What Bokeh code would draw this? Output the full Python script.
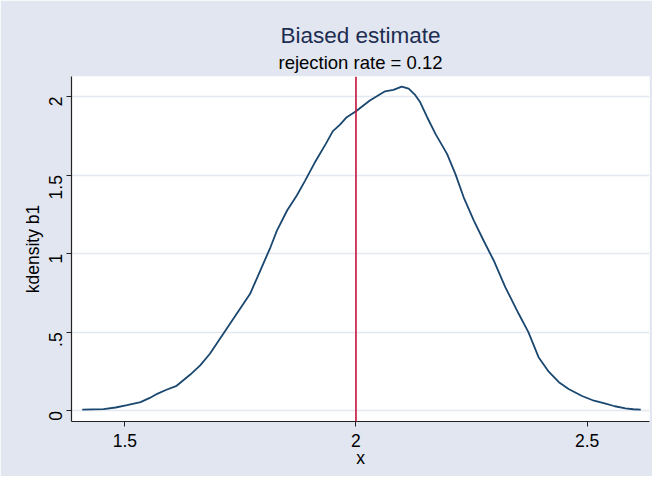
import math
from bokeh.plotting import figure
from bokeh.models import Span, Title, Range1d, FixedTicker
from bokeh.embed import file_html
from bokeh.resources import INLINE

# kernel density estimate of b1
x_vals = [1.408, 1.43, 1.454, 1.48, 1.505, 1.534, 1.554, 1.570, 1.590, 1.612,
          1.641, 1.663, 1.684, 1.713, 1.742, 1.771, 1.793, 1.815, 1.829, 1.851,
          1.872, 1.890, 1.91, 1.935, 1.95, 1.965, 1.980, 2.000, 2.030, 2.063,
          2.081, 2.099, 2.114, 2.128, 2.139, 2.154, 2.172, 2.197, 2.215, 2.233,
          2.255, 2.276, 2.298, 2.323, 2.352, 2.373, 2.395, 2.417, 2.439, 2.46,
          2.489, 2.515, 2.540, 2.56, 2.583, 2.60, 2.616]
density = [0.008, 0.010, 0.012, 0.022, 0.037, 0.056, 0.083, 0.109, 0.135, 0.160,
           0.230, 0.29, 0.364, 0.491, 0.618, 0.745, 0.893, 1.041, 1.147, 1.275,
           1.370, 1.465, 1.575, 1.70, 1.78, 1.819, 1.868, 1.906, 1.974, 2.033,
           2.042, 2.063, 2.050, 2.01, 1.963, 1.868, 1.762, 1.635, 1.508, 1.359,
           1.211, 1.084, 0.957, 0.787, 0.618, 0.501, 0.342, 0.25, 0.183, 0.14,
           0.095, 0.065, 0.046, 0.030, 0.017, 0.011, 0.008]
true_value = 2.0
x_ticks = [1.5, 2.0, 2.5]
x_tick_labels = ["1.5", "2", "2.5"]
y_ticks = [0.0, 0.5, 1.0, 1.5, 2.0]
y_tick_labels = ["0", ".5", "1", "1.5", "2"]

FONT = "Liberation Sans"
BG = "#E1E6F0"
GRID = "#E3E8F1"

p = figure(width=652, height=476, output_backend="svg", toolbar_location=None,
           x_range=Range1d(1.3846, 2.635), y_range=Range1d(-0.067, 2.127),
           min_border_left=71, min_border_right=3, min_border_bottom=55,
           min_border_top=76)
p.title.visible = False
p.background_fill_color = "white"
p.border_fill_color = BG
p.outline_line_color = None

sub = Title(text="rejection rate = 0.12", align="center", text_font=FONT,
            text_font_size="18.5px", text_font_style="normal", text_color="black",
            standoff=7, offset=0)
p.add_layout(sub, "above")
main = Title(text="Biased estimate", align="center", text_font=FONT,
             text_font_size="22.5px", text_font_style="normal", text_color="#1E2D52",
             standoff=-3)
p.add_layout(main, "above")

p.line(x_vals, density, line_color="#1A476F", line_width=1.8)
p.add_layout(Span(location=true_value, dimension="height", line_color="#C4133A",
                  line_width=1.6))

p.xgrid.visible = False
p.ygrid.grid_line_color = GRID
p.ygrid.grid_line_width = 1.5

p.xaxis.ticker = FixedTicker(ticks=x_ticks)
p.xaxis.major_label_overrides = dict(zip(x_ticks, x_tick_labels))
p.yaxis.ticker = FixedTicker(ticks=y_ticks)
p.yaxis.major_label_overrides = dict(zip(y_ticks, y_tick_labels))
p.yaxis.major_label_orientation = math.pi / 2

p.xaxis.axis_label = "x"
p.yaxis.axis_label = "kdensity b1"
for ax in (p.xaxis, p.yaxis):
    ax.axis_line_color = "#222222"
    ax.axis_line_width = 1.2
    ax.major_tick_line_color = "#222222"
    ax.major_tick_out = 5
    ax.major_tick_in = 0
    ax.minor_tick_line_color = None
    ax.major_label_text_font = FONT
    ax.major_label_text_font_size = "17.5px"
    ax.major_label_text_color = "black"
    ax.axis_label_text_font = FONT
    ax.axis_label_text_font_size = "17.5px"
    ax.axis_label_text_font_style = "normal"
    ax.axis_label_text_color = "black"
p.xaxis.major_label_standoff = 7
p.xaxis.axis_label_standoff = -2
p.yaxis.major_label_standoff = 11
p.yaxis.axis_label_standoff = -3

open("out.html", "w").write(file_html(p, INLINE))
